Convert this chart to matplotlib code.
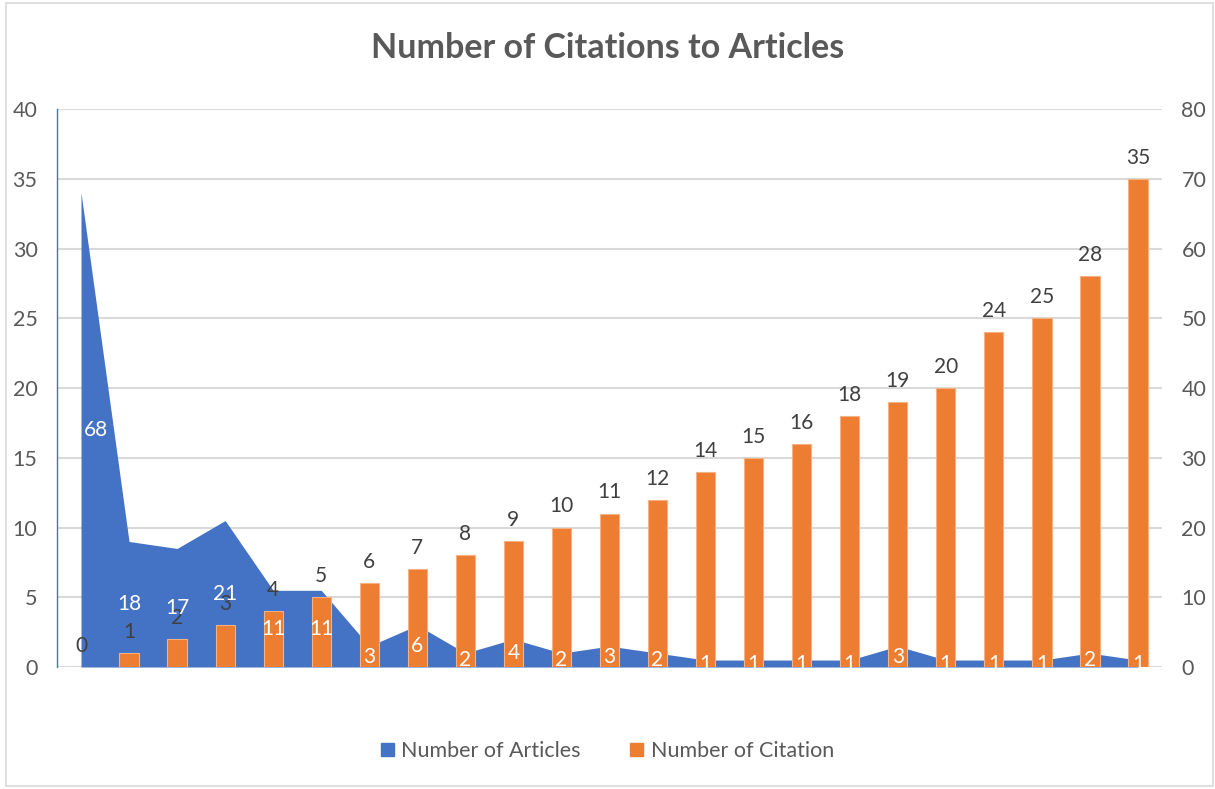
import matplotlib
matplotlib.use("Agg")
import matplotlib.pyplot as plt
from matplotlib.patches import Rectangle, Patch
import numpy as np

plt.rcParams['font.family'] = ['Lato', 'DejaVu Sans']

title = "Number of Citations to Articles"
citations = [0, 1, 2, 3, 4, 5, 6, 7, 8, 9, 10, 11, 12, 14, 15, 16, 18, 19, 20, 24, 25, 28, 35]
articles = [68, 18, 17, 21, 11, 11, 3, 6, 2, 4, 2, 3, 2, 1, 1, 1, 1, 3, 1, 1, 1, 2, 1]
left_ticks = [0, 5, 10, 15, 20, 25, 30, 35, 40]
right_ticks = [0, 10, 20, 30, 40, 50, 60, 70, 80]

BLUE = "#4472c4"
ORANGE = "#ed7d31"
GREY = "#595959"
DARK = "#404040"
GRID = "#d9d9d9"

fig = plt.figure(figsize=(12.15, 7.89), dpi=100)
ax = fig.add_axes([0.0469, 0.1546, 0.9095, 0.7072])
x = np.arange(len(citations))

ax2 = ax.twinx()

# area on the lower axis (right scale)
ax.fill_between(x, 0, articles, color=BLUE, linewidth=0, zorder=2)
ax.set_ylim(0, 80)
ax.set_xlim(-0.5, len(citations) - 0.5)
ax.set_xticks([])
for yv in left_ticks:
    ax.axhline(yv * 2, color=GRID, lw=1.5, zorder=1)

# bars on upper axis (left scale)
ax2.patch.set_visible(False)
ax2.set_ylim(0, 40)
ax2.set_xlim(-0.5, len(citations) - 0.5)
bars = ax2.bar(x, citations, width=0.4, color=ORANGE, edgecolor="#f4b183", linewidth=0.8, zorder=3)

# tick placement: left scale (bars) on the left, right scale (area) on the right
ax.yaxis.set_label_position('right')
ax.yaxis.tick_right()
ax.set_yticks(right_ticks)
ax2.yaxis.tick_left()
ax2.set_yticks(left_ticks)
for a in (ax, ax2):
    for s in a.spines.values():
        s.set_visible(False)
    a.tick_params(axis='y', length=0, labelsize=15.5, labelcolor=GREY, pad=14)
ax.tick_params(axis='y', left=False, labelleft=False, right=False, labelright=True)
ax2.tick_params(axis='y', right=False, labelright=False, left=False, labelleft=True)
ax2.spines['left'].set_visible(True)
ax2.spines['left'].set_color(BLUE)
ax2.spines['left'].set_linewidth(1.0)

for xi, v in zip(x, citations):
    ax2.annotate(str(v), (xi, v), xytext=(0, 8), textcoords='offset points',
                 ha='center', va='bottom', fontsize=15, color=DARK, zorder=5)
for i, (xi, v) in enumerate(zip(x, articles)):
    dx = 11 if i == 0 else 0
    ax2.annotate(str(v), (xi, v / 4.0), xytext=(dx, 0), textcoords='offset points',
                 ha='center', va='center', fontsize=15, color='white', zorder=6)

fig.text(0.5, 1 - 48 / 789, title, ha='center', va='center', fontsize=24.5,
         fontweight='bold', color=GREY)

handles = [Patch(color=BLUE, label='Number of Articles'),
           Patch(color=ORANGE, label='Number of Citation')]
fig.legend(handles=handles, loc='center', bbox_to_anchor=(0.5, 1 - 751 / 789),
           ncol=2, frameon=False, fontsize=15.5, labelcolor=GREY,
           handlelength=0.6, handleheight=0.6, handletextpad=0.35, columnspacing=2.3)

fig.patches.append(Rectangle((6 / 1215, 0.004), 1 - 8 / 1215, 0.992,
                             transform=fig.transFigure, fill=False,
                             edgecolor=GRID, lw=1.2))

fig.savefig("out.png", dpi=100)
